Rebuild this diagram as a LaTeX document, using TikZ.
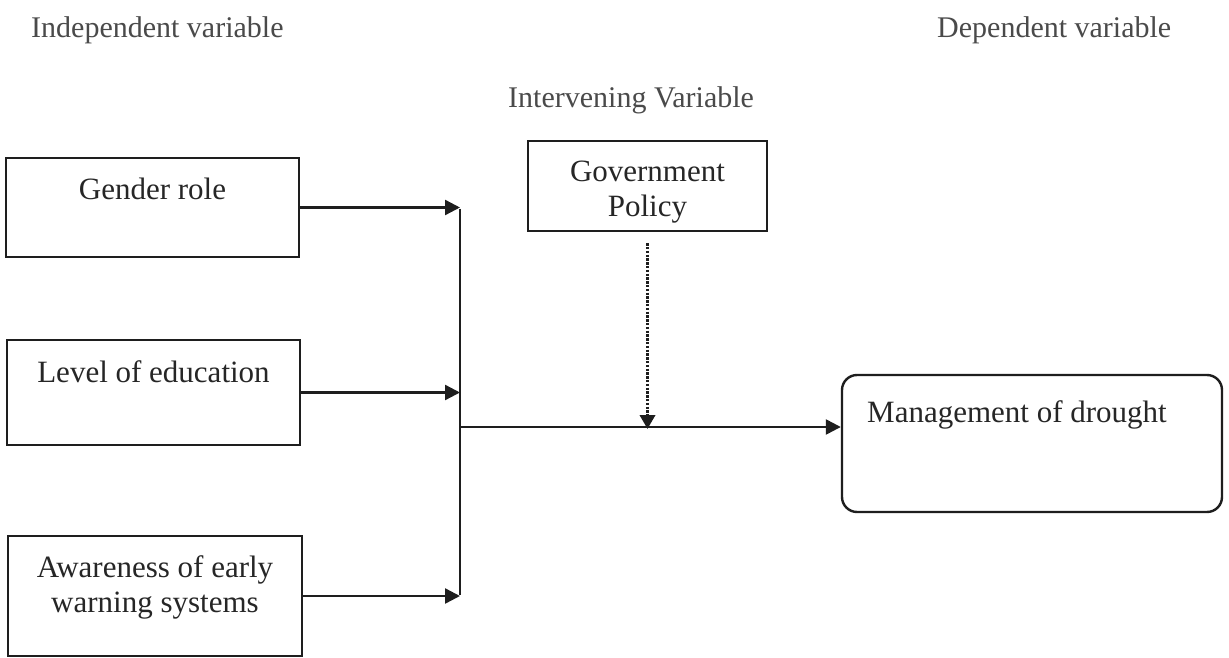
\documentclass[tikz,border=0pt]{standalone}
\usepackage{fontspec}
\setmainfont{Liberation Serif}
\usetikzlibrary{arrows.meta}
\definecolor{ink}{HTML}{1E1E1E}
\definecolor{txt}{HTML}{262626}
\definecolor{head}{HTML}{4A4A4A}
\tikzset{
  box/.style={draw=ink, line width=2.4pt, rectangle, inner sep=0pt},
  rbox/.style={box, rounded corners=15pt},
  lbl/.style={anchor=base, inner sep=0pt, text=txt, font=\fontsize{31}{35}\selectfont},
  hlbl/.style={anchor=base west, inner sep=0pt, text=head, font=\fontsize{30}{34}\selectfont},
  arr/.style={draw=ink, line width=2.4pt, -{Triangle[length=15pt,width=15pt]}},
  wire/.style={draw=ink, line width=2.4pt},
  dotarr/.style={draw=ink, line width=3.6pt, dash pattern=on 2.4pt off 1.4pt,
     -{Triangle[length=14pt,width=15pt]}}
}
\begin{document}
\begin{tikzpicture}[x=1pt,y=-1pt]
\useasboundingbox[fill=white] (0,0) rectangle (1229,658);

% headings
\node[hlbl] (hind) at (31,38) {Independent variable};
\node[hlbl] (hdep) at (937,38) {Dependent variable};
\node[hlbl] (hint) at (508,108) {Intervening Variable};

% boxes
\node[box, minimum width=293pt, minimum height=99pt] (gbox) at (152.5,207.5) {};
\node[box, minimum width=293pt, minimum height=105pt] (ebox) at (153.5,392.5) {};
\node[box, minimum width=294pt, minimum height=120pt] (abox) at (155,596) {};
\node[box, minimum width=239pt, minimum height=90pt] (pbox) at (647.5,186) {};
\node[rbox, minimum width=380pt, minimum height=137pt] (mbox) at (1032,443.5) {};

% box texts
\node[lbl] (gtxt) at (152.5,199) {Gender role};
\node[lbl] (etxt) at (153.5,382) {Level of education};
\node[lbl] (atxt1) at (155,577) {Awareness of early};
\node[lbl] (atxt2) at (155,612) {warning systems};
\node[lbl] (ptxt1) at (647.5,182) {Government};
\node[lbl] (ptxt2) at (647.5,216) {Policy};
\node[lbl, anchor=base west] (mtxt) at (867,422) {Management of drought};

% connectors
\coordinate (bus) at (460,0);
\coordinate (min) at (460,427);
\draw[arr] (gbox) -- (gbox -| bus);
\draw[arr] (ebox) -- (ebox -| bus);
\draw[arr] (abox) -- (abox -| bus);
\draw[wire] ([yshift=-1.2pt]gbox -| bus) -- ([yshift=1.2pt]abox -| bus);
\draw[arr] (min) -- (min -| mbox.west);
\draw[dotarr, shorten <=11pt] (pbox.south) -- ([yshift=-2pt]pbox.south |- min);
\end{tikzpicture}
\end{document}
